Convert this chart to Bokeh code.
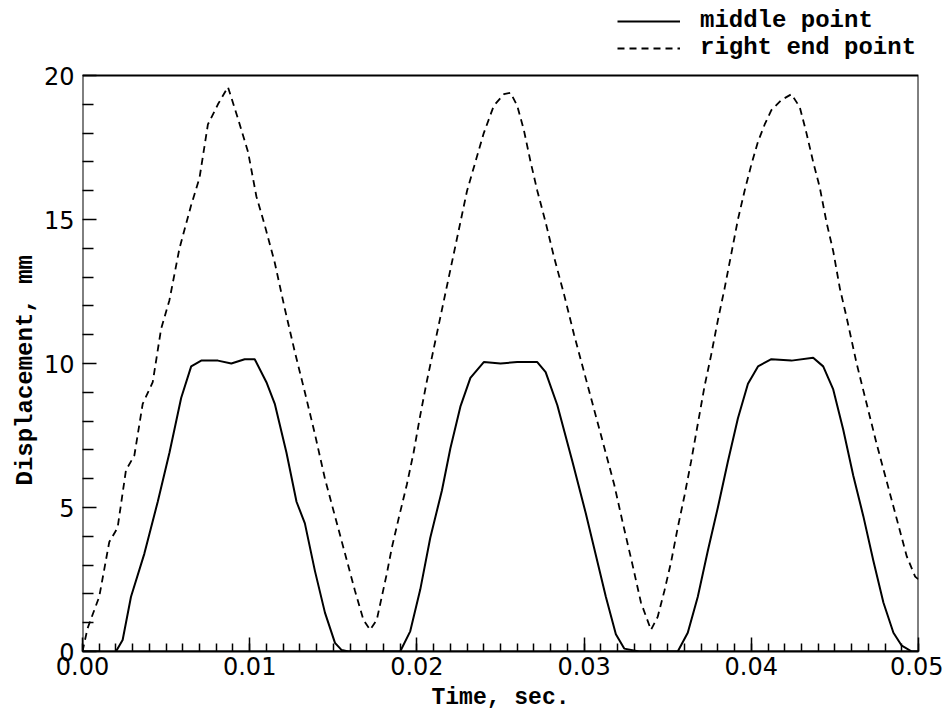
from bokeh.plotting import figure
from bokeh.models import (Range1d, SingleIntervalTicker, FixedTicker, PrintfTickFormatter,
                          Legend, LegendItem, BoxAnnotation, Title)
from bokeh.embed import file_html
from bokeh.resources import INLINE

# ---- data ----
t_mid = [0, 0.0010, 0.0015, 0.0020, 0.0024, 0.0029, 0.0037, 0.0045, 0.0052, 0.0059, 0.0065,
         0.0071, 0.0081, 0.0089, 0.0097, 0.0103, 0.0110, 0.0115, 0.0122, 0.0128, 0.0133,
         0.0139, 0.0145, 0.0151, 0.0155, 0.0159, 0.0175, 0.0190, 0.0196, 0.0202, 0.0208,
         0.0215, 0.0220, 0.0226, 0.0232, 0.0240, 0.0250, 0.0260, 0.0272, 0.0277, 0.0284,
         0.0293, 0.0301, 0.0307, 0.0313, 0.0319, 0.0324, 0.0333, 0.0345, 0.0356, 0.0362,
         0.0368, 0.0374, 0.0380, 0.0386, 0.0392, 0.0398, 0.0404, 0.0412, 0.0424, 0.0437,
         0.0443, 0.0449, 0.0455, 0.0461, 0.0467, 0.0473, 0.0479, 0.0485, 0.0490, 0.0496, 0.0500]
y_mid = [0, 0, -0.12, 0, 0.4, 1.9, 3.4, 5.2, 6.9, 8.8, 9.9,
         10.1, 10.1, 10.0, 10.15, 10.15, 9.35, 8.6, 6.9, 5.2, 4.45,
         2.8, 1.35, 0.3, 0.05, 0, 0, 0, 0.7, 2.15, 3.95,
         5.6, 7.05, 8.5, 9.5, 10.05, 10.0, 10.05, 10.05, 9.7, 8.55,
         6.6, 4.8, 3.35, 1.9, 0.6, 0.1, 0, 0, 0, 0.65,
         1.9, 3.5, 5.0, 6.6, 8.1, 9.3, 9.9, 10.15, 10.1, 10.2,
         9.9, 9.1, 7.7, 6.1, 4.7, 3.15, 1.7, 0.65, 0.2, 0, 0]

t_end = [0, 0.0003, 0.0010, 0.0016, 0.0021, 0.0026, 0.0031, 0.0036, 0.0042, 0.0047, 0.0052,
         0.0058, 0.0065, 0.0070, 0.0075, 0.0081, 0.0087, 0.0093, 0.0099, 0.0104, 0.0109,
         0.0115, 0.0121, 0.0127, 0.0133, 0.0139, 0.0145, 0.0151, 0.0157, 0.0163, 0.0168,
         0.0172, 0.0176, 0.0179, 0.0182, 0.0185, 0.0189, 0.0194, 0.0198, 0.0202, 0.0206,
         0.0210, 0.0214, 0.0218, 0.0222, 0.0226, 0.0230, 0.0235, 0.0240, 0.0246, 0.0252,
         0.0256, 0.0260, 0.0264, 0.0268, 0.0272, 0.0277, 0.0282, 0.0288, 0.0294, 0.0300,
         0.0306, 0.0312, 0.0318, 0.0323, 0.0329, 0.0334, 0.0340, 0.0344, 0.0348, 0.0352,
         0.0356, 0.0360, 0.0364, 0.0368, 0.0372, 0.0376, 0.0380, 0.0384, 0.0388, 0.0392,
         0.0396, 0.0400, 0.0404, 0.0408, 0.0412, 0.0418, 0.0424, 0.0429, 0.0433, 0.0437,
         0.0441, 0.0445, 0.0449, 0.0453, 0.0457, 0.0463, 0.0469, 0.0475, 0.0481, 0.0487,
         0.0493, 0.0498, 0.0500]
y_end = [0, 0.8, 1.9, 3.8, 4.3, 6.3, 6.8, 8.6, 9.35, 11.2, 12.2,
         14.0, 15.5, 16.45, 18.3, 19.0, 19.6, 18.5, 17.35, 15.8, 14.8,
         13.5, 11.9, 10.4, 9.0, 7.55, 6.0, 4.7, 3.4, 2.1, 1.1,
         0.75, 1.1, 1.9, 2.7, 3.6, 4.6, 5.8, 6.9, 8.2, 9.4,
         10.5, 11.6, 12.7, 13.8, 14.9, 16.0, 17.0, 18.0, 18.95, 19.35,
         19.4, 18.95, 18.1, 17.0, 16.0, 14.9, 13.7, 12.4, 11.0, 9.7,
         8.4, 7.1, 5.8, 4.5, 3.0, 1.7, 0.75, 1.2, 2.1, 3.1,
         4.3, 5.4, 6.6, 7.9, 9.2, 10.3, 11.5, 12.6, 13.8, 15.0,
         16.0, 16.9, 17.7, 18.3, 18.8, 19.15, 19.35, 18.9, 18.0, 17.0,
         16.1, 14.9, 13.9, 12.6, 11.6, 10.0, 8.6, 7.2, 5.9, 4.6,
         3.3, 2.6, 2.5]

x_min, x_max = 0, 0.05
y_min, y_max = 0, 20
y_major = [0, 5, 10, 15, 20]
y_minor = [1, 2, 3, 4, 6, 7, 8, 9, 11, 12, 13, 14, 16, 17, 18, 19]

x_label = "Time, sec."
y_label = "Displacement, mm"
labels = ["middle point", "right end point"]

# ---- layout (pixels) ----
W, H = 943, 715
B_LEFT, B_RIGHT, B_BOTTOM = 82, 25, 64
TOP_PX = 75                      # where y = 20 sits; legend lives above it
frame_h = H - B_BOTTOM
y_top = y_max * frame_h / (frame_h - TOP_PX)

p = figure(width=W, height=H, output_backend="svg", toolbar_location=None,
           x_range=Range1d(x_min, x_max), y_range=Range1d(y_min, y_top),
           min_border_left=B_LEFT, min_border_right=B_RIGHT, min_border_top=0,
           min_border_bottom=B_BOTTOM)
p.background_fill_color = "white"
p.border_fill_color = "white"
p.outline_line_color = None
p.xgrid.visible = False
p.ygrid.visible = False

# plot box
p.add_layout(BoxAnnotation(left=x_min, right=x_max, bottom=y_min, top=y_max,
                           fill_alpha=0, line_color="black", line_alpha=1.0, line_width=2))

r_mid = p.line(t_mid, y_mid, line_color="black", line_width=2)
r_end = p.line(t_end, y_end, line_color="black", line_width=1.8, line_dash="7 5")

p.xaxis.ticker = SingleIntervalTicker(interval=0.01, num_minor_ticks=10)
p.xaxis.formatter = PrintfTickFormatter(format="%.2f")
p.yaxis.ticker = FixedTicker(ticks=y_major, minor_ticks=y_minor)

for ax in (p.xaxis[0], p.yaxis[0]):
    ax.axis_line_width = 2
    ax.axis_line_color = "black"
    ax.major_tick_out = 0
    ax.minor_tick_out = 0
    ax.major_tick_line_width = 1.5
    ax.minor_tick_line_width = 1.5
    ax.major_tick_line_color = "black"
    ax.minor_tick_line_color = "black"
    ax.major_label_text_font = "DejaVu Sans"
    ax.major_label_text_font_size = "24px"
    ax.major_label_text_color = "black"
    ax.axis_label_text_font = "Liberation Mono"
    ax.axis_label_text_font_style = "bold"
    ax.axis_label_text_color = "black"

p.yaxis.axis_line_color = None   # left edge drawn by the box
p.xaxis.axis_label_text_font_size = "23px"
p.xaxis.major_tick_in = 14
p.xaxis.minor_tick_in = 8
p.yaxis.major_tick_in = 14
p.yaxis.minor_tick_in = 11
p.xaxis.major_label_standoff = 5
p.yaxis.major_label_standoff = 8
p.xaxis.axis_label_standoff = 7
p.xaxis.axis_label = x_label

# y label as a left-side title, anchored from the bottom so it is centred on the 0..20 box
ytitle = Title(text=y_label, align="left", offset=166, standoff=4,
               text_font="Liberation Mono", text_font_style="bold",
               text_font_size="24px", text_color="black")
p.add_layout(ytitle, "left")

legend = Legend(items=[LegendItem(label=labels[0], renderers=[r_mid]),
                       LegendItem(label=labels[1], renderers=[r_end])],
                location=(535, frame_h - 61), orientation="vertical")
legend.border_line_color = None
legend.background_fill_alpha = 0
legend.padding = 0
legend.margin = 0
legend.spacing = 0
legend.glyph_width = 63
legend.glyph_height = 22
legend.label_height = 22
legend.label_standoff = 20
legend.label_text_font = "Liberation Mono"
legend.label_text_font_style = "bold"
legend.label_text_font_size = "24px"
legend.label_text_color = "black"
p.add_layout(legend)

open("out.html", "w").write(file_html(p, INLINE))
